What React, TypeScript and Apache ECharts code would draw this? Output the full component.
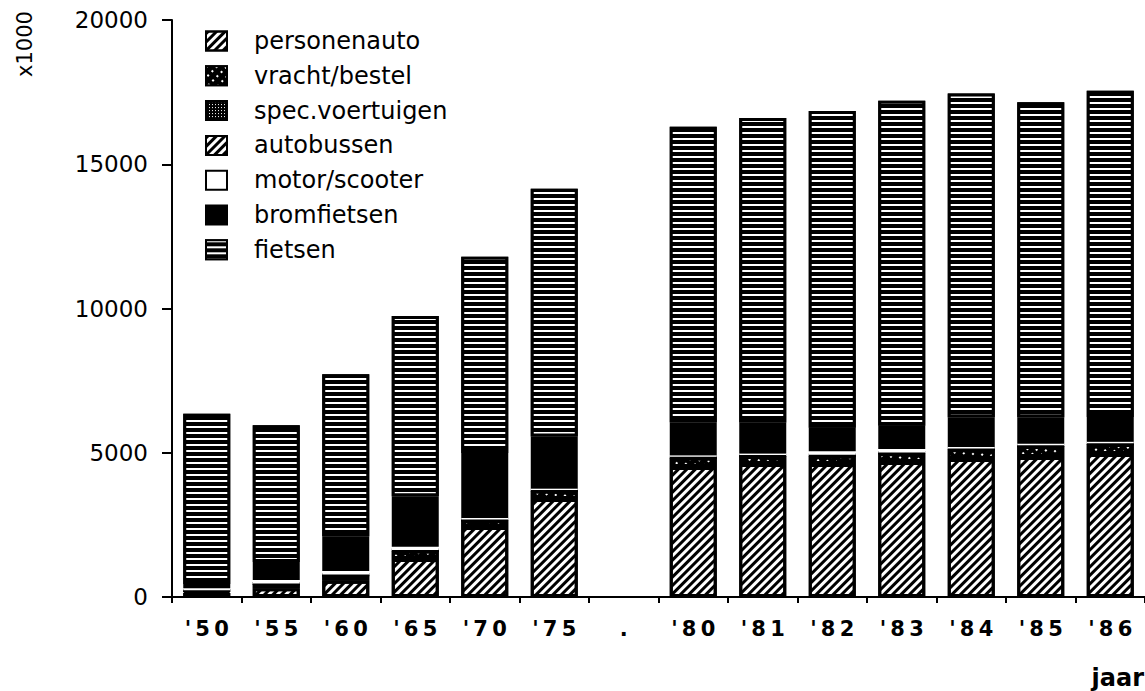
import React, { useEffect, useRef } from "react";
import * as echarts from "echarts";

const categories = ["'50", "'55", "'60", "'65", "'70", "'75", ".", "'80", "'81", "'82", "'83", "'84", "'85", "'86"];
const personenauto = [140, 300, 560, 1320, 2430, 3400, null, 4510, 4610, 4610, 4680, 4780, 4850, 4960];
const vrachtBestel = [70, 150, 200, 280, 230, 280, null, 320, 280, 290, 300, 340, 380, 340];
const specVoertuigen = [10, 10, 10, 20, 20, 20, null, 20, 20, 20, 20, 20, 20, 20];
const autobussen = [10, 10, 10, 10, 10, 10, null, 10, 10, 10, 10, 10, 10, 10];
const motorScooter = [70, 120, 120, 110, 50, 50, null, 50, 50, 120, 120, 50, 50, 50];
const bromfietsen = [150, 620, 1210, 1750, 2250, 1800, null, 1150, 1080, 820, 810, 1030, 920, 860];
const fietsen = [5900, 4740, 5610, 6250, 6800, 8590, null, 10240, 10550, 10980, 11260, 11220, 10920, 11310];
const yTicks = { min: 0, max: 20000, interval: 5000 };

const hatch = {
  symbol: "rect",
  symbolSize: 1,
  color: "#000",
  dashArrayX: [1, 0],
  dashArrayY: [3, 2.8],
  rotation: -Math.PI / 4,
};
const dashes = {
  symbol: "rect",
  symbolSize: 1,
  color: "#fff",
  dashArrayX: [2, 4],
  dashArrayY: [1.5, 5],
  rotation: -Math.PI / 4,
};
const dots = {
  symbol: "rect",
  symbolSize: 1,
  color: "#fff",
  dashArrayX: [1, 2],
  dashArrayY: [1, 2],
  rotation: 0,
};
const stripes = {
  symbol: "rect",
  symbolSize: 1,
  color: "#fff",
  dashArrayX: [1, 0],
  dashArrayY: [1.2, 3.8],
  rotation: 0,
};

export default function App() {
  const ref = useRef<HTMLDivElement>(null);
  useEffect(() => {
    const chart = echarts.init(ref.current!, undefined, { renderer: "svg" });
    const border = { borderColor: "#000", borderWidth: 3 };
    const mk = (name: string, data: any[], itemStyle: any) => ({
      name,
      type: "bar",
      stack: "total",
      data,
      barWidth: 47,
      itemStyle,
    });
    const font = "'DejaVu Sans', sans-serif";
    chart.setOption({
      animation: false,
      backgroundColor: "#fff",
      grid: { left: 172, top: 20, width: 983, height: 577 },
      legend: {
        orient: "vertical",
        left: 200,
        top: 24,
        itemWidth: 21,
        itemHeight: 19,
        itemGap: 10.8,
        icon: "rect",
        textStyle: { fontFamily: font, fontSize: 24, color: "#000", padding: [0, 0, 0, 22] },
        data: [
          "personenauto",
          "vracht/bestel",
          "spec.voertuigen",
          "autobussen",
          { name: "motor/scooter", itemStyle: { borderColor: "#000", borderWidth: 2 } },
          "bromfietsen",
          "fietsen",
        ],
      },
      xAxis: {
        type: "category",
        data: categories,
        axisLine: { lineStyle: { color: "#000", width: 2 } },
        axisTick: { show: true, length: 6, lineStyle: { color: "#000", width: 2 } },
        axisLabel: {
          fontFamily: font,
          fontWeight: "bold",
          fontSize: 21,
          color: "#000",
          margin: 21,
          formatter: (v: string) => v.split("").join("\u2009"),
        },
      },
      yAxis: {
        type: "value",
        ...yTicks,
        splitLine: { show: false },
        axisLine: { show: true, lineStyle: { color: "#000", width: 2 } },
        axisTick: { show: true, length: 10, lineStyle: { color: "#000", width: 2 } },
        axisLabel: {
          fontFamily: font,
          fontSize: 23,
          color: "#000",
          margin: 24,
          formatter: (v: number) => String(v),
        },
      },
      series: [
        mk("personenauto", personenauto, { color: "#fff", decal: hatch, ...border }),
        mk("vracht/bestel", vrachtBestel, { color: "#000", decal: dashes, ...border }),
        mk("spec.voertuigen", specVoertuigen, { color: "#000", decal: dots, ...border }),
        mk("autobussen", autobussen, { color: "#fff", decal: hatch, ...border }),
        mk("motor/scooter", motorScooter, { color: "#fff", borderWidth: 0 }),
        mk("bromfietsen", bromfietsen, { color: "#000", ...border }),
        mk("fietsen", fietsen, { color: "#000", decal: stripes, ...border }),
      ],
      graphic: [
        {
          type: "text",
          x: 25,
          y: 44,
          rotation: Math.PI / 2,
          style: {
            text: "x1000",
            fontFamily: font,
            fontSize: 21,
            fill: "#000",
            align: "center",
            verticalAlign: "middle",
          },
        },
        {
          type: "text",
          x: 1144,
          y: 678,
          style: {
            text: "jaar",
            fontFamily: font,
            fontWeight: "bold",
            fontSize: 24,
            fill: "#000",
            align: "right",
            verticalAlign: "middle",
          },
        },
      ],
    });
    return () => chart.dispose();
  }, []);
  return (
    <div
      ref={ref}
      style={{ position: "absolute", left: 0, top: 0, width: 1145, height: 691 }}
    />
  );
}
